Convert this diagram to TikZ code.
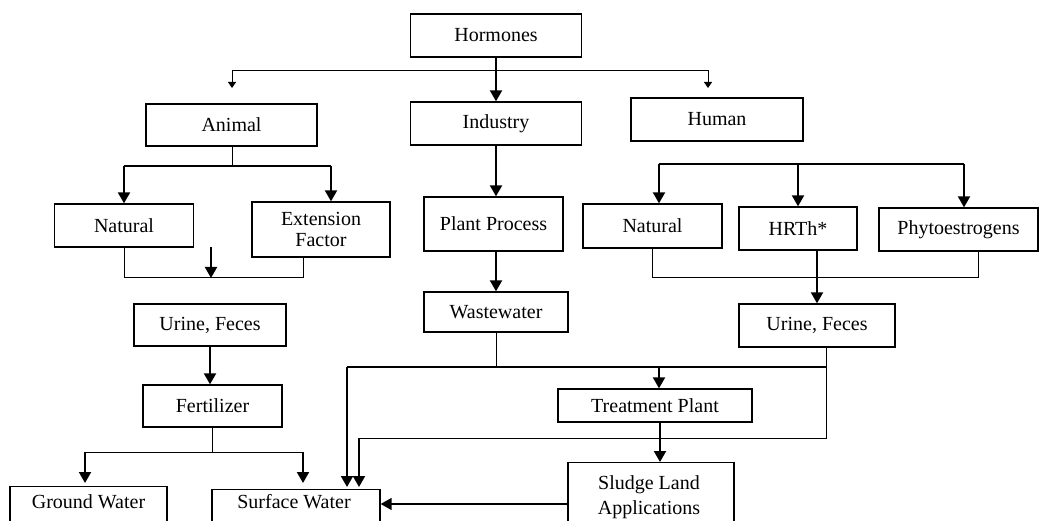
\documentclass[tikz,border=0pt]{standalone}
\usepackage{fontspec}
\setmainfont{Liberation Serif}
\usetikzlibrary{arrows.meta,calc}
\newcommand{\fz}{\fontsize{20}{21.6}\selectfont}
\tikzset{
  box/.style={draw, line width=1.3pt, inner sep=0pt, font=\fz, align=center},
  txt/.style={inner sep=0pt, font=\fz, align=center},
  thinln/.style={line width=1pt},
  medln/.style={line width=1.5pt},
  thickarr/.style={line width=2pt, -{Triangle[length=11pt,width=12pt]}},
  medarr/.style={line width=1.6pt, -{Triangle[length=11pt,width=12pt]}},
  smallarr/.style={line width=1pt, -{Triangle[length=6pt,width=8pt]}}
}
\begin{document}
\begin{tikzpicture}[x=1pt,y=-1pt]
\fill[white] (0,0) rectangle (1039,521);
\useasboundingbox (0,0) rectangle (1039,521);
\clip (0,0) rectangle (1039,521);
% boxes
\node[box,minimum width=171pt,minimum height=43pt] (hormones) at (496,35.5) {Hormones};
\node[box,minimum width=171pt,minimum height=42pt] (animal) at (231.5,125) {Animal};
\node[box,minimum width=171pt,minimum height=43pt] (industry) at (496,123.5) {Industry};
\node[box,minimum width=172pt,minimum height=43pt] (human) at (717,119.5) {Human};
\node[box,minimum width=139pt,minimum height=43pt] (natA) at (124,225.5) {Natural};
\node[box,minimum width=138pt,minimum height=55pt] (ext) at (321,229.5) {Extension\\Factor};
\node[box,minimum width=139pt,minimum height=54pt] (plant) at (493.5,224) {Plant Process};
\node[box,minimum width=139pt,minimum height=44pt] (natH) at (652.5,226) {Natural};
\node[box,minimum width=118pt,minimum height=43pt] (hrth) at (798,228.5) {HRTh*};
\node[box,minimum width=159pt,minimum height=43pt] (phyto) at (958.5,229.5) {Phytoestrogens};
\node[box,minimum width=152pt,minimum height=42pt] (uriA) at (210,325) {Urine, Feces};
\node[box,minimum width=144pt,minimum height=40pt] (waste) at (496,312) {Wastewater};
\node[box,minimum width=156pt,minimum height=43pt] (uriH) at (817,325.5) {Urine, Feces};
\node[box,minimum width=139pt,minimum height=42pt] (fert) at (212.5,406) {Fertilizer};
\node[box,minimum width=194pt,minimum height=33pt] (treat) at (655,405.5) {Treatment Plant};
\node[box,minimum width=166pt,minimum height=84pt,anchor=north] (sludge) at (651,462) {};
\node[box,minimum width=157pt,minimum height=60pt,anchor=north] (ground) at (88.5,486) {};
\node[box,minimum width=168pt,minimum height=60pt,anchor=north] (surface) at (296,489) {};
\node[txt] (groundT) at (88.5,502) {Ground Water};
\node[txt] (surfaceT) at (294,502) {Surface Water};
\node[txt,font=\fontsize{20}{25}\selectfont] (sludgeT) at (649,497) {Sludge Land\\Applications};
% Hormones
\coordinate (hTop) at (496,71);
\coordinate (aDrop) at (232,88);
\coordinate (hDrop) at (708,88);
\draw[thickarr] (hormones.south) -- (industry.north);
\draw[smallarr] (hTop) -| (aDrop);
\draw[smallarr] (hTop) -| (hDrop);
% Animal
\coordinate (aJ) at (232,166);
\coordinate (aL) at (124,166);
\coordinate (aR) at (331,166);
\draw[thinln] (animal.south -| aJ) -- (aJ);
\draw[medln] (aL) -- (aR);
\draw[thickarr] (aL) -- (aL |- natA.north);
\draw[thickarr] (aR) -- (aR |- ext.north);
\coordinate (mL) at (124,278);
\coordinate (mR) at (303,278);
\coordinate (mA) at (211,278);
\coordinate (mS) at (211,247);
\draw[thinln] (natA.south) -- (mL) -- (mR) -- (mR |- ext.south);
\draw[thickarr] (mS) -- (mA);
% Industry
\draw[thickarr] (industry.south) -- (industry.south |- plant.north);
\draw[thickarr] (plant.south -| waste.north) -- (waste.north);
% Human
\coordinate (hL) at (659,164);
\coordinate (hM) at (798,164);
\coordinate (hR) at (964,164);
\draw[medln] (hL) -- (hR);
\draw[thickarr] (hL) -- (hL |- natH.north);
\draw[thickarr] (hM) -- (hM |- hrth.north);
\draw[thickarr] (hR) -- (hR |- phyto.north);
\coordinate (nL) at (652.5,278);
\coordinate (nR) at (978,278);
\coordinate (nH) at (817,278);
\draw[thinln] (natH.south) -- (nL) -- (nR) -- (nR |- phyto.south);
\draw[thickarr] (nH |- hrth.south) -- (nH |- uriH.north);
% Animal urine
\draw[thickarr] (uriA.south) -- (uriA.south |- fert.north);
\coordinate (fJ) at (212.5,452);
\coordinate (fL) at (85,452);
\coordinate (fR) at (303,452);
\draw[thinln] (fert.south) -- (fJ);
\draw[thinln] (fL) -- (fR);
\draw[thickarr] (fL) -- ($(fL |- ground.north)+(0,-3)$);
\draw[thickarr] (fR) -- ($(fR |- surface.north)+(0,-6)$);
% Wastewater
\coordinate (wJ) at (496,367);
\coordinate (wL) at (347,367);
\coordinate (wT) at (659,367);
\coordinate (wR) at (826,367);
\draw[thinln] (waste.south) -- (wJ);
\draw[medln] (wL) -- (wR);
\draw[thickarr] (wL) -- ($(wL |- surface.north)+(0,-2)$);
\draw[thickarr] (wT) -- (wT |- treat.north);
% Human urine
\coordinate (uB) at (826,438);
\coordinate (uL) at (359,438);
\draw[thinln] (uB |- uriH.south) -- (uB) -- (uL);
\draw[thickarr] (uL) -- ($(uL |- surface.north)+(0,-2)$);
% Treatment
\coordinate (tS) at (660,440);
\draw[thickarr] (tS |- treat.south) -- (tS |- sludge.north);
\coordinate (sA) at (600,504);
\draw[medarr] (sA -| sludge.west) -- (sA -| surface.east);
\end{tikzpicture}
\end{document}
